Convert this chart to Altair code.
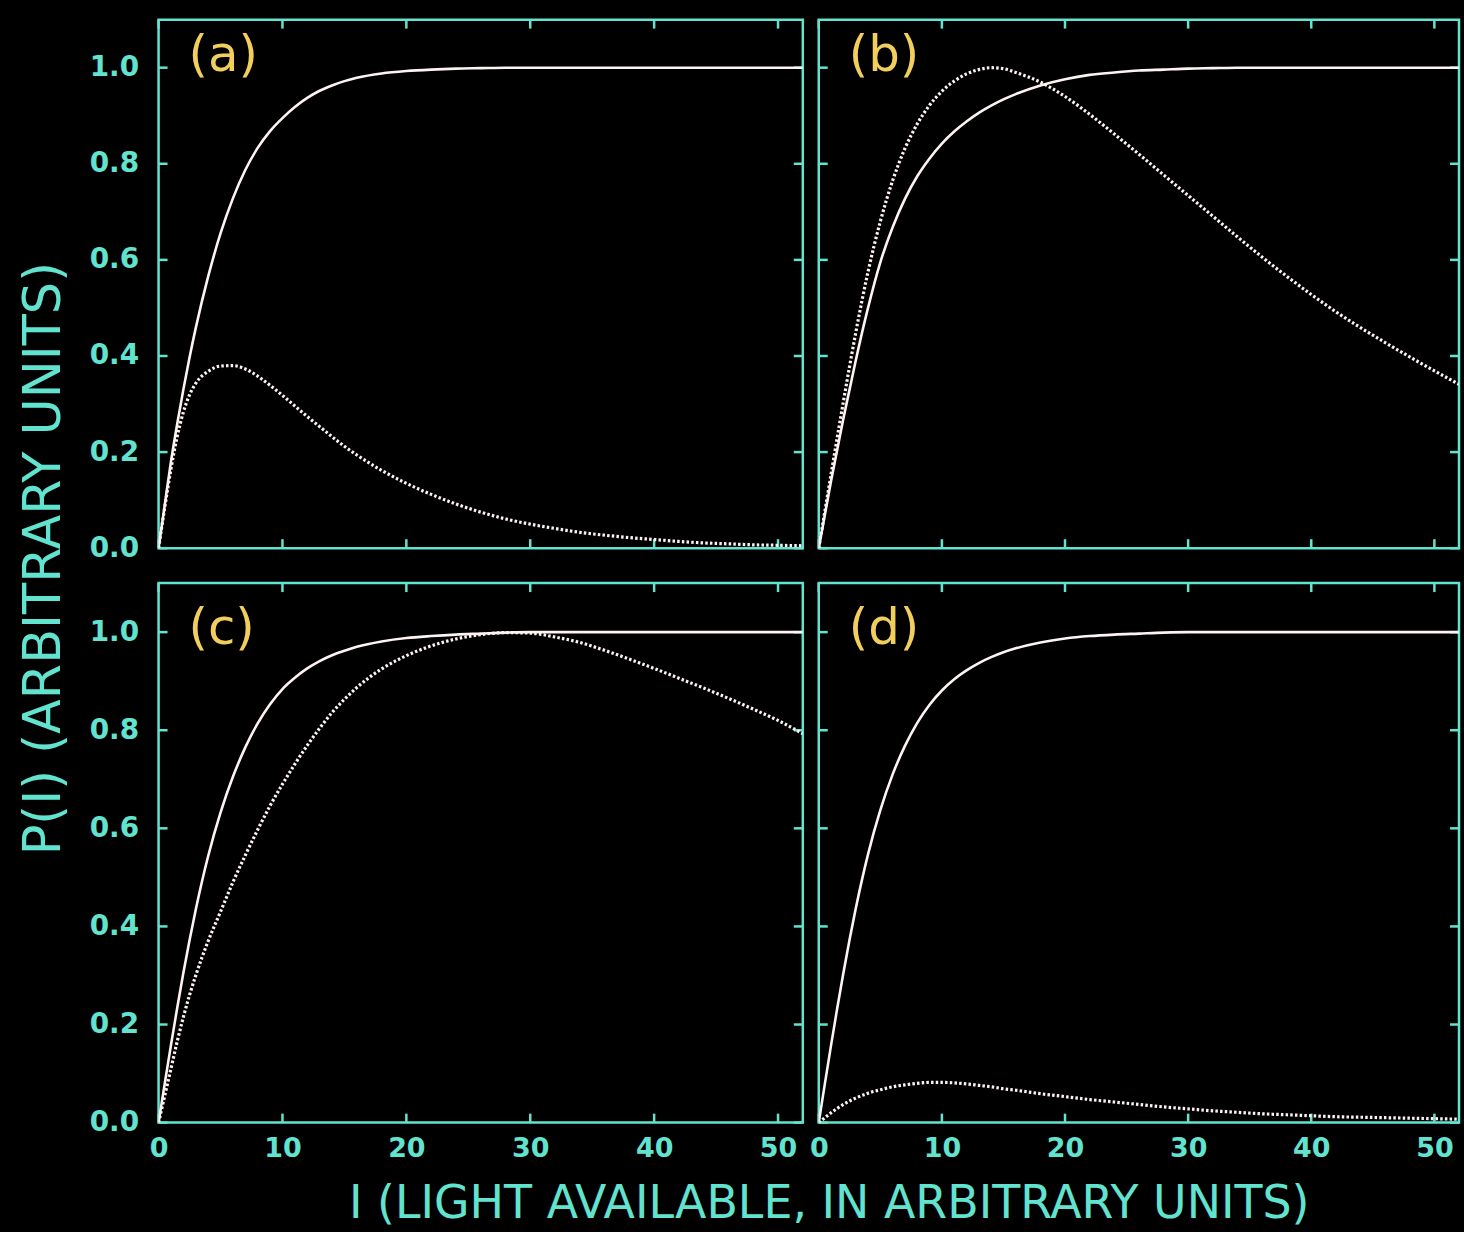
import altair as alt
import pandas as pd

# ---------------- data ----------------
I_GRID = [0, 0.5, 1, 1.5, 2, 2.5, 3, 4, 5, 6, 7, 8, 9, 10, 11, 12, 13, 14, 15, 16,
          18, 20, 22, 24, 26, 28, 30, 32, 34, 36, 38, 40, 42, 44, 46, 48, 50, 52]

A_SOLID = [0, 0.09, 0.18, 0.258, 0.33, 0.397, 0.458, 0.565, 0.655, 0.728, 0.787, 0.833, 0.868,
           0.895, 0.918, 0.937, 0.952, 0.963, 0.972, 0.979, 0.988, 0.993, 0.996, 0.998, 0.999,
           1.0, 1.0, 1.0, 1.0, 1.0, 1.0, 1.0, 1.0, 1.0, 1.0, 1.0, 1.0, 1.0]
A_DOTTED = [0, 0.085, 0.165, 0.232, 0.283, 0.319, 0.343, 0.368, 0.379, 0.38, 0.373, 0.358,
            0.339, 0.318, 0.296, 0.274, 0.253, 0.232, 0.212, 0.194, 0.162, 0.135, 0.112, 0.092,
            0.075, 0.061, 0.05, 0.041, 0.033, 0.027, 0.022, 0.018, 0.014, 0.011, 0.009, 0.007,
            0.006, 0.005]

B_SOLID = [0, 0.07, 0.14, 0.205, 0.27, 0.33, 0.39, 0.50, 0.595, 0.668, 0.727, 0.774, 0.811,
           0.842, 0.867, 0.888, 0.906, 0.921, 0.934, 0.945, 0.963, 0.976, 0.985, 0.99, 0.994,
           0.996, 0.998, 0.999, 1.0, 1.0, 1.0, 1.0, 1.0, 1.0, 1.0, 1.0, 1.0, 1.0]
B_DOTTED = [0, 0.077, 0.154, 0.23, 0.305, 0.378, 0.448, 0.575, 0.68, 0.765, 0.832, 0.883,
            0.922, 0.951, 0.972, 0.987, 0.996, 1.0, 0.998, 0.99, 0.97, 0.94, 0.903, 0.862,
            0.82, 0.777, 0.734, 0.691, 0.648, 0.606, 0.566, 0.528, 0.492, 0.459, 0.428, 0.398,
            0.369, 0.341]

C_SOLID = [0, 0.08, 0.158, 0.233, 0.305, 0.372, 0.434, 0.543, 0.632, 0.705, 0.765, 0.814,
           0.853, 0.884, 0.907, 0.926, 0.941, 0.953, 0.962, 0.97, 0.981, 0.988, 0.992, 0.995,
           0.997, 0.999, 1.0, 1.0, 1.0, 1.0, 1.0, 1.0, 1.0, 1.0, 1.0, 1.0, 1.0, 1.0]
C_DOTTED = [0, 0.055, 0.11, 0.165, 0.215, 0.26, 0.30, 0.37, 0.43, 0.49, 0.545, 0.597, 0.646,
            0.69, 0.731, 0.769, 0.804, 0.836, 0.863, 0.887, 0.925, 0.952, 0.972, 0.986, 0.995,
            0.999, 0.998, 0.99, 0.979, 0.963, 0.945, 0.926, 0.906, 0.886, 0.865, 0.843, 0.82,
            0.793]

D_SOLID = [0, 0.08, 0.158, 0.233, 0.305, 0.373, 0.436, 0.547, 0.637, 0.71, 0.768, 0.815,
           0.852, 0.881, 0.904, 0.922, 0.937, 0.949, 0.959, 0.967, 0.979, 0.987, 0.992, 0.995,
           0.997, 0.999, 1.0, 1.0, 1.0, 1.0, 1.0, 1.0, 1.0, 1.0, 1.0, 1.0, 1.0, 1.0]
D_DOTTED = [0, 0.01, 0.02, 0.029, 0.037, 0.044, 0.05, 0.06, 0.067, 0.073, 0.077, 0.08, 0.082,
            0.082, 0.081, 0.079, 0.076, 0.073, 0.069, 0.066, 0.059, 0.053, 0.047, 0.042, 0.037,
            0.032, 0.028, 0.024, 0.021, 0.018, 0.016, 0.014, 0.012, 0.011, 0.01, 0.009, 0.008,
            0.007]

X_TICKS = [0, 10, 20, 30, 40, 50]
Y_TICKS = [0.0, 0.2, 0.4, 0.6, 0.8, 1.0]
PANEL_LABELS = ["(a)", "(b)", "(c)", "(d)"]
X_TITLE = "I (LIGHT AVAILABLE, IN ARBITRARY UNITS)"
Y_TITLE = "P(I) (ARBITRARY UNITS)"

# ---------------- style ----------------
CYAN = "#62e3cf"
YELLOW = "#f2cf5c"
CURVE = "#fff2f2"
FONT = "DejaVu Sans"
TL = 9  # inward tick length


def make_xaxis(show, title=False):
    if not show:
        return None
    kw = dict(values=X_TICKS, format="d", labelPadding=13, labelFlush=False,
              labelFontSize=27, labelFontWeight="bold", labelColor=CYAN, labelFont=FONT,
              ticks=False, domain=False, grid=False)
    if title:
        kw.update(title=X_TITLE, titleX=672, titleY=81, titleAlign="center",
                  titleBaseline="middle", titleFontSize=46, titleFontWeight="normal",
                  titleColor=CYAN, titleFont=FONT)
    else:
        kw.update(title=None)
    return alt.Axis(**kw)


def make_yaxis(show, title=False):
    if not show:
        return None
    kw = dict(values=Y_TICKS, format=".1f", labelPadding=20,
              labelFontSize=28, labelFontWeight="bold", labelColor=CYAN, labelFont=FONT,
              ticks=False, domain=False, grid=False)
    if title:
        kw.update(title=Y_TITLE, titleX=-114, titleY=-25, titleAlign="center",
                  titleBaseline="middle", titleAngle=270, titleFontSize=51,
                  titleFontWeight="normal", titleColor=CYAN, titleFont=FONT)
    else:
        kw.update(title=None)
    return alt.Axis(**kw)


def panel(solid, dotted, label, w, h, xaxis, yaxis, label_y):
    df = pd.DataFrame({"I": I_GRID, "solid": solid, "dotted": dotted})
    xs = alt.Scale(domain=[0, 52], nice=False, zero=False)
    ys = alt.Scale(domain=[0, 1.1], nice=False)

    def X(f):
        return alt.X(f, scale=xs, axis=xaxis)

    def Y(f):
        return alt.Y(f, scale=ys, axis=yaxis)

    base = alt.Chart(df)
    solid_l = base.mark_line(color=CURVE, strokeWidth=2.6, interpolate="monotone",
                             clip=True).encode(x=X("I:Q"), y=Y("solid:Q"))
    dotted_l = base.mark_line(color=CURVE, strokeWidth=3.2, strokeDash=[2.5, 2.2],
                              interpolate="monotone", clip=True).encode(x=X("I:Q"), y=Y("dotted:Q"))

    xt = pd.DataFrame({"t": X_TICKS})
    yt = pd.DataFrame({"t": Y_TICKS})
    rule = dict(color=CYAN, strokeWidth=2.5)
    top = alt.Chart(xt).mark_rule(**rule).encode(x=X("t:Q"), y=alt.value(0), y2=alt.value(TL))
    bot = alt.Chart(xt).mark_rule(**rule).encode(x=X("t:Q"), y=alt.value(h), y2=alt.value(h - TL))
    left = alt.Chart(yt).mark_rule(**rule).encode(y=Y("t:Q"), x=alt.value(0), x2=alt.value(TL))
    right = alt.Chart(yt).mark_rule(**rule).encode(y=Y("t:Q"), x=alt.value(w - TL), x2=alt.value(w))

    lab = alt.Chart(pd.DataFrame({"label": [label]})).mark_text(
        align="left", baseline="middle", font=FONT, fontSize=50, color=YELLOW
    ).encode(text="label:N", x=alt.value(30), y=alt.value(label_y))

    return alt.layer(top, bot, left, right, solid_l, dotted_l, lab).properties(width=w, height=h)


pa = panel(A_SOLID, A_DOTTED, PANEL_LABELS[0], 646, 530,
           make_xaxis(False), make_yaxis(True), 37)
pb = panel(B_SOLID, B_DOTTED, PANEL_LABELS[1], 642, 530,
           make_xaxis(False), make_yaxis(False), 37)
pc = panel(C_SOLID, C_DOTTED, PANEL_LABELS[2], 646, 541,
           make_xaxis(True, title=True), make_yaxis(True, title=True), 46)
pd_ = panel(D_SOLID, D_DOTTED, PANEL_LABELS[3], 642, 541,
            make_xaxis(True), make_yaxis(False), 46)

chart = alt.concat(pa, pb, pc, pd_, columns=2, spacing={"row": 35, "column": 16},
                   bounds="flush").properties(
    background="black",
    padding={"left": 17, "top": 15, "right": 2, "bottom": 2},
).configure_view(stroke=CYAN, strokeWidth=2.5, fill="black")

chart.save("out.html", embed_options={"renderer": "svg", "actions": False})
